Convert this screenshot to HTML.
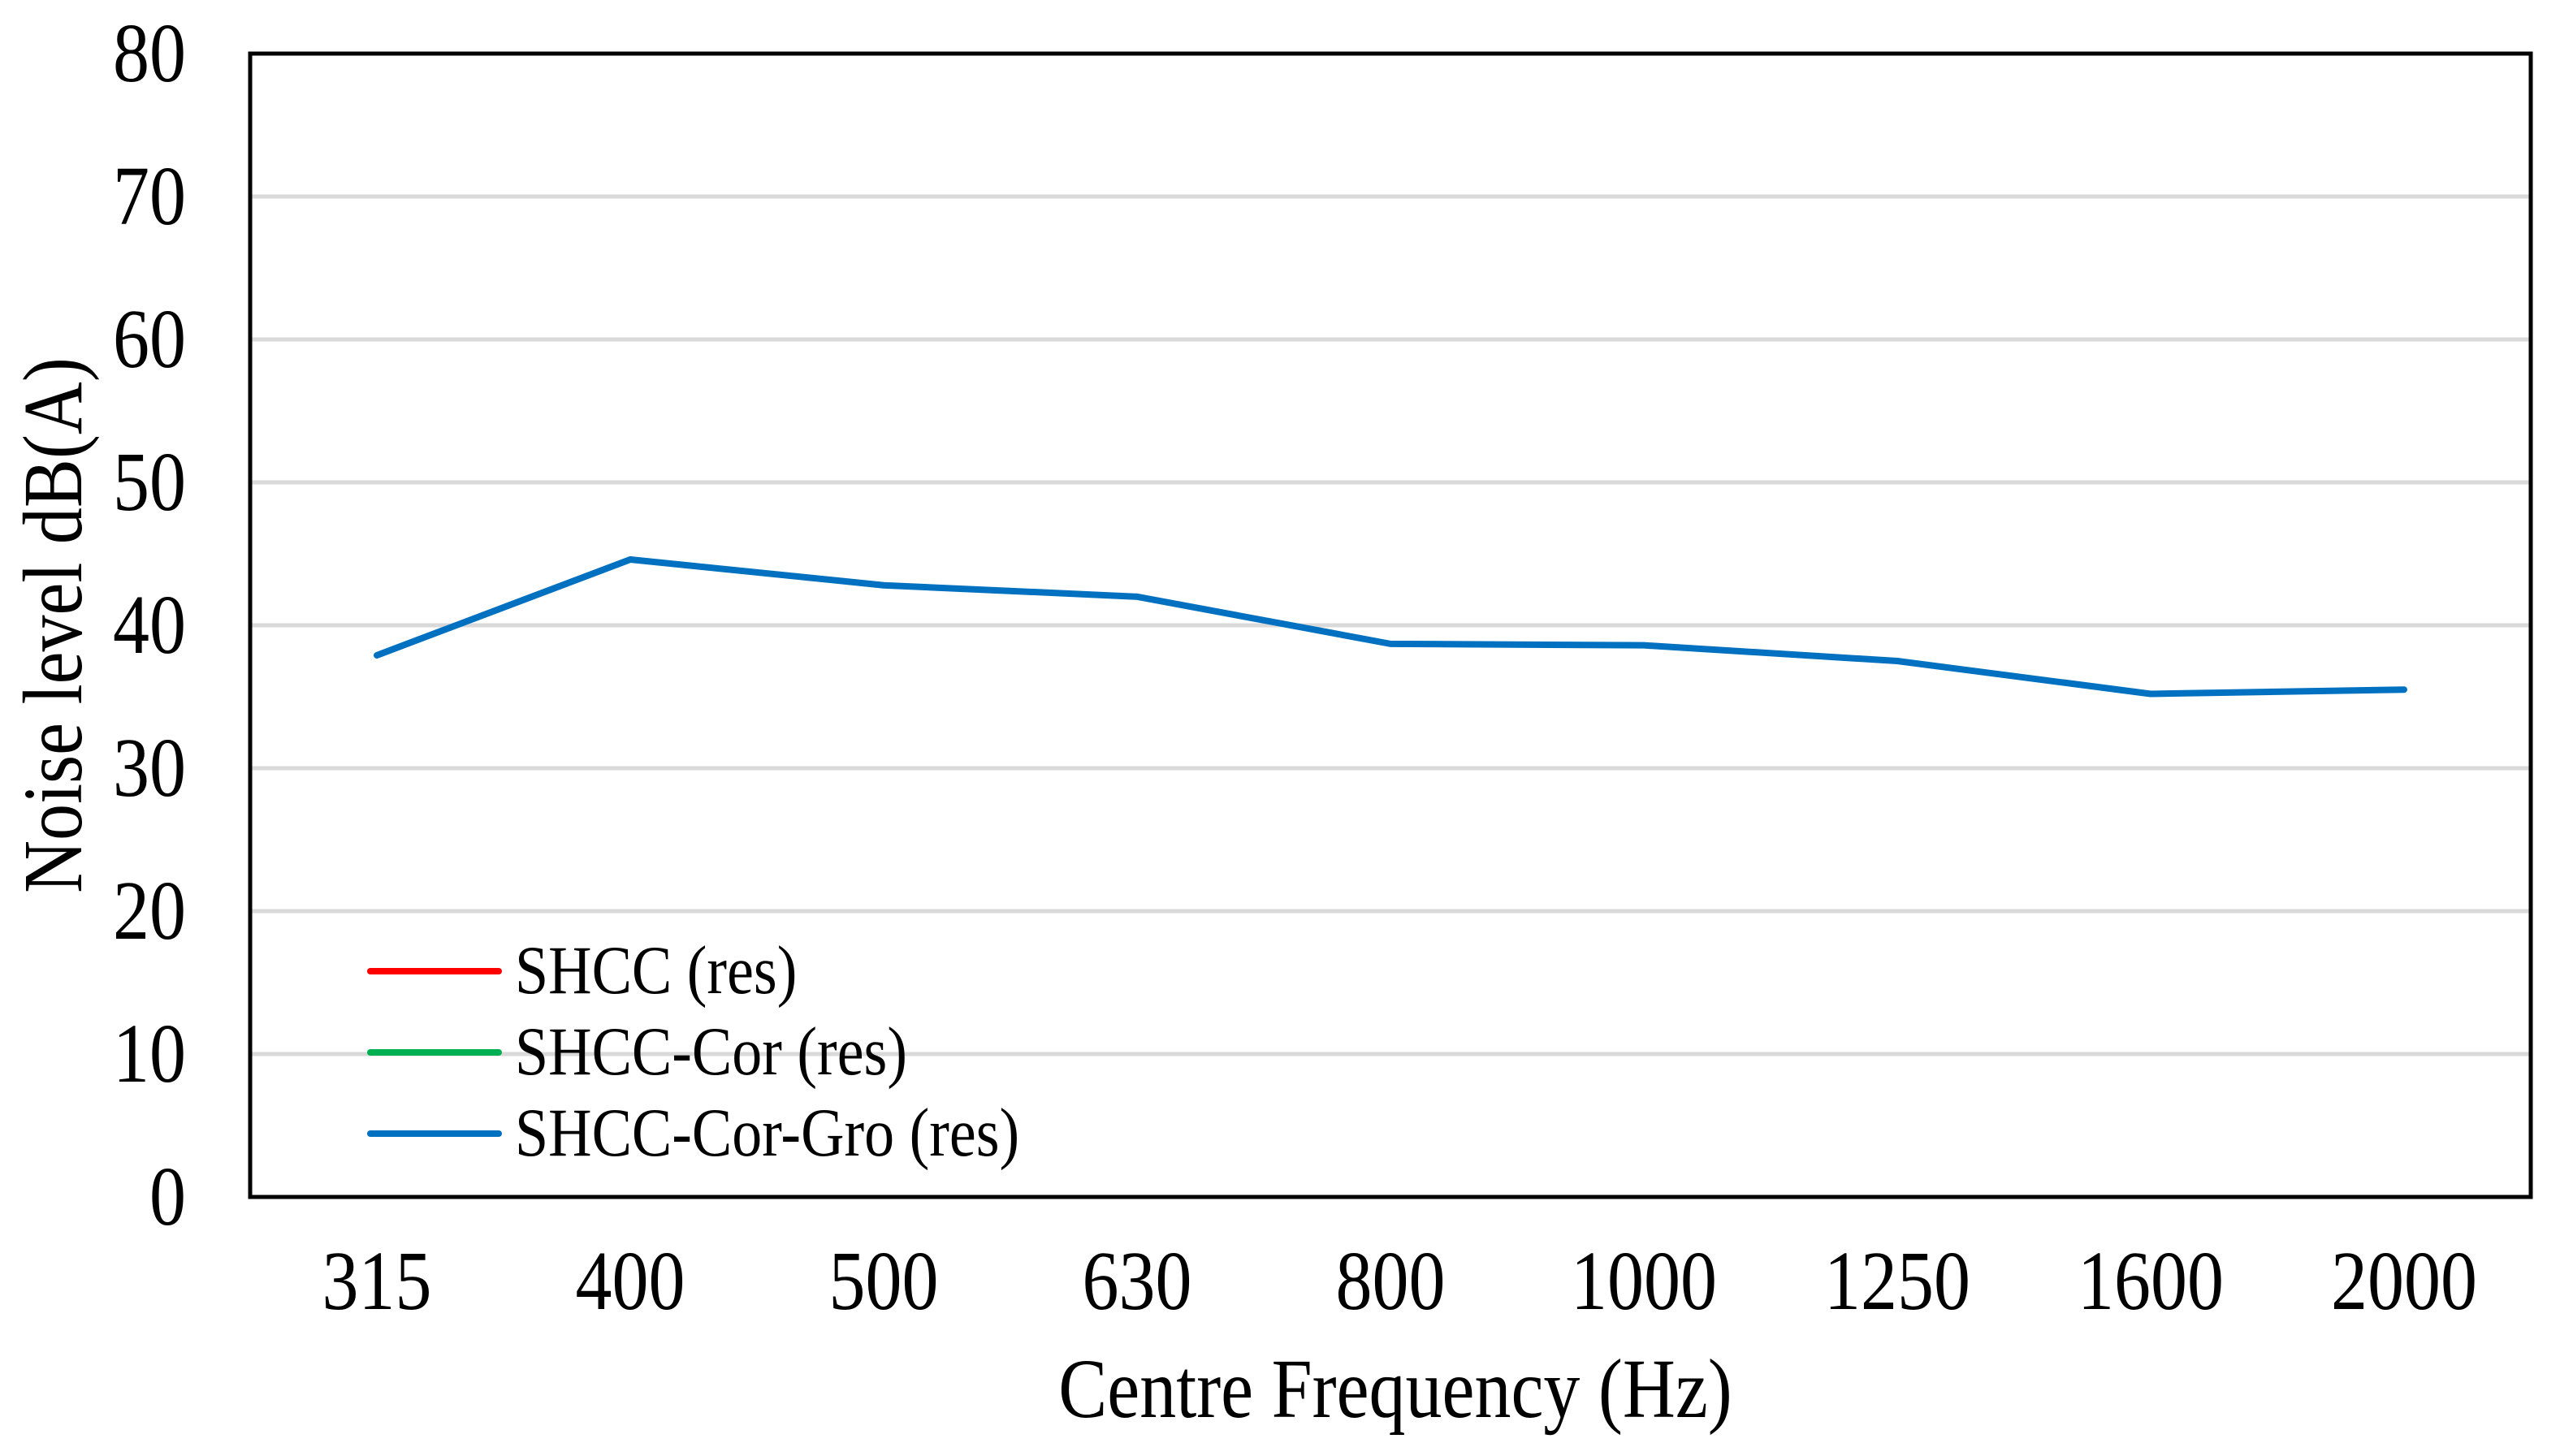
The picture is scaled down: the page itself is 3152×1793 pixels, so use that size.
<!DOCTYPE html>
<html><head><meta charset="utf-8"><style>
html,body{margin:0;padding:0;background:#fff;}
svg text{font-family:"Liberation Serif",serif;fill:#000;}
</style></head><body>
<svg id="chart" width="3152" height="1788" viewBox="0 0 3152 1788" xmlns="http://www.w3.org/2000/svg">
<rect x="0" y="0" width="3152" height="1788" fill="#fff"/>
<g id="grid"></g>
<g id="series"></g>
<rect x="308" y="66" width="2808" height="1408" fill="none" stroke="#000" stroke-width="5"/>
<g id="yticks"></g>
<g id="xticks"></g>
<text transform="translate(1718,1745) scale(1,1.15)" font-size="90" text-anchor="middle">Centre Frequency (Hz)</text>
<text transform="translate(100,770) rotate(-90) scale(1,1.15)" font-size="90" text-anchor="middle">Noise level dB(A)</text>
<g id="legend"></g>
</svg>
<script>
const categories = ["315","400","500","630","800","1000","1250","1600","2000"];
const yTicks = [0,10,20,30,40,50,60,70,80];
const seriesNames = ["SHCC (res)","SHCC-Cor (res)","SHCC-Cor-Gro (res)"];
const seriesColors = ["#ff0000","#00b050","#0070c0"];
const shccValues = [];
const shccCorValues = [];
const shccCorGroValues = [37.9,44.6,42.8,42.0,38.7,38.6,37.5,35.2,35.5];

const NS="http://www.w3.org/2000/svg";
const L=308,R=3116,T=66,B=1474;
function xPos(i){return L+(i+0.5)*(R-L)/categories.length;}
function yPos(v){return B-(v-0)/(80-0)*(B-T);}
function mk(tag,attrs,parent){const e=document.createElementNS(NS,tag);for(const k in attrs)e.setAttribute(k,attrs[k]);parent.appendChild(e);return e;}

const grid=document.getElementById('grid');
yTicks.forEach(v=>{
  if(v===0||v===80)return;
  const ln=mk('line',{x1:L,x2:R,y1:yPos(v),y2:yPos(v),stroke:'#d9d9d9','stroke-width':5},grid);
  
  
});
const yt=document.getElementById('yticks');
yTicks.forEach(v=>{
  const t=mk('text',{transform:'translate(229,'+(yPos(v)+34)+') scale(1,1.15)','font-size':90,'text-anchor':'end'},yt);
  t.textContent=v;
  
  
});
const xt=document.getElementById('xticks');
categories.forEach((c,i)=>{
  const t=mk('text',{transform:'translate('+xPos(i)+',1612) scale(1,1.15)','font-size':90,'text-anchor':'middle'},xt);
  t.textContent=c;
  
  
});
const sg=document.getElementById('series');
[shccValues,shccCorValues,shccCorGroValues].forEach((vals,si)=>{
  if(!vals.length)return;
  const pts=vals.map((v,i)=>xPos(i)+','+yPos(v)).join(' ');
  const pl=mk('polyline',{points:pts,fill:'none',stroke:seriesColors[si],'stroke-width':8,'stroke-linejoin':'round','stroke-linecap':'round'},sg);
  
  
});
const lg=document.getElementById('legend');
seriesNames.forEach((n,i)=>{
  const y=1196+i*100;
  const ln=mk('line',{x1:456,x2:614,y1:y,y2:y,stroke:seriesColors[i],'stroke-width':8,'stroke-linecap':'round'},lg);
  
  
  const t=mk('text',{transform:'translate(634,'+(y+27)+') scale(1,1.15)','font-size':74},lg);
  t.textContent=n;
  
  
});
</script>
</body></html>
